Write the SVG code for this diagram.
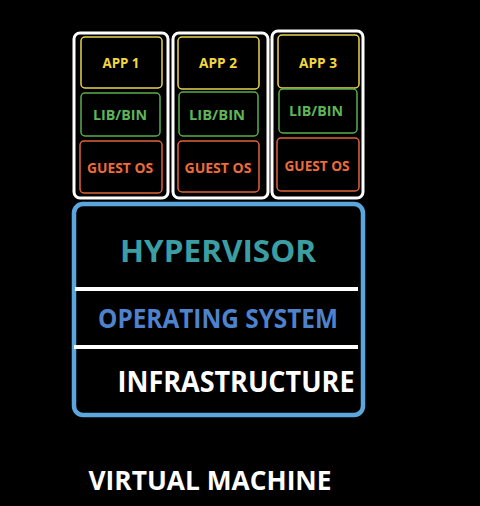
<svg xmlns="http://www.w3.org/2000/svg" width="480" height="506" viewBox="0 0 480 506">
<style>
.bg{fill:#000}
.outer{fill:none;stroke:#fff;stroke-width:3}
.app{fill:none;stroke:#e9d44a;stroke-width:1.5}
.lib{fill:none;stroke:#58ad4c;stroke-width:1.5}
.os{fill:none;stroke:#e0643a;stroke-width:1.5}
text{font-family:"Open Sans","Liberation Sans",sans-serif;font-weight:bold;text-anchor:middle}
.tapp{fill:#f2d83e;font-size:15px}
.tlib{fill:#5fb556;font-size:15px}
.tos{fill:#ee6b3a;font-size:15px}
.vm{fill:none;stroke:#5ba6dc;stroke-width:4.5}
.sep{stroke:#fff;stroke-width:4}
</style>
<rect class="bg" width="480" height="506"/>
<g id="vm1">
<rect class="outer" x="74" y="33" width="94" height="165" rx="6"/>
<rect class="app" x="81" y="37" width="81" height="51" rx="4"/>
<text class="tapp" x="121" y="68" textLength="37" lengthAdjust="spacingAndGlyphs">APP 1</text>
<rect class="lib" x="81" y="93" width="79" height="43" rx="4"/>
<text class="tlib" x="120" y="120" textLength="54" lengthAdjust="spacingAndGlyphs">LIB/BIN</text>
<rect class="os" x="80" y="141" width="82" height="52" rx="4"/>
<text class="tos" x="120" y="173" textLength="66" lengthAdjust="spacingAndGlyphs">GUEST OS</text>
</g>
<g id="vm2">
<rect class="outer" x="173" y="33" width="95" height="165" rx="6"/>
<rect class="app" x="178" y="37" width="81" height="52" rx="4"/>
<text class="tapp" x="218" y="68" textLength="38" lengthAdjust="spacingAndGlyphs">APP 2</text>
<rect class="lib" x="179" y="92" width="79" height="44" rx="4"/>
<text class="tlib" x="217" y="120" textLength="56" lengthAdjust="spacingAndGlyphs">LIB/BIN</text>
<rect class="os" x="178" y="141" width="81" height="51" rx="4"/>
<text class="tos" x="218" y="173" textLength="67" lengthAdjust="spacingAndGlyphs">GUEST OS</text>
</g>
<g id="vm3">
<rect class="outer" x="272" y="31" width="91" height="167" rx="6"/>
<rect class="app" x="278" y="35" width="81" height="53" rx="4"/>
<text class="tapp" x="318" y="68" textLength="38" lengthAdjust="spacingAndGlyphs">APP 3</text>
<rect class="lib" x="279" y="89" width="78" height="44" rx="4"/>
<text class="tlib" x="316" y="116" textLength="54" lengthAdjust="spacingAndGlyphs">LIB/BIN</text>
<rect class="os" x="277" y="138" width="82" height="53" rx="4"/>
<text class="tos" x="317" y="171" textLength="65" lengthAdjust="spacingAndGlyphs">GUEST OS</text>
</g>
<g id="host">
<rect class="vm" x="74" y="204" width="289" height="211" rx="9"/>
<line class="sep" x1="75" y1="289" x2="358" y2="289"/>
<line class="sep" x1="74" y1="347" x2="358" y2="347"/>
<text x="218" y="262" fill="#3a9ea2" font-size="31" textLength="196" lengthAdjust="spacingAndGlyphs">HYPERVISOR</text>
<text x="218" y="328" fill="#4f82cc" font-size="26" textLength="240" lengthAdjust="spacingAndGlyphs">OPERATING SYSTEM</text>
<text x="236" y="392" fill="#fff" font-size="29" textLength="237" lengthAdjust="spacingAndGlyphs">INFRASTRUCTURE</text>
</g>
<text x="210" y="490" fill="#fff" font-size="27" textLength="243" lengthAdjust="spacingAndGlyphs">VIRTUAL MACHINE</text>
<g id="connectors"/>
</svg>
